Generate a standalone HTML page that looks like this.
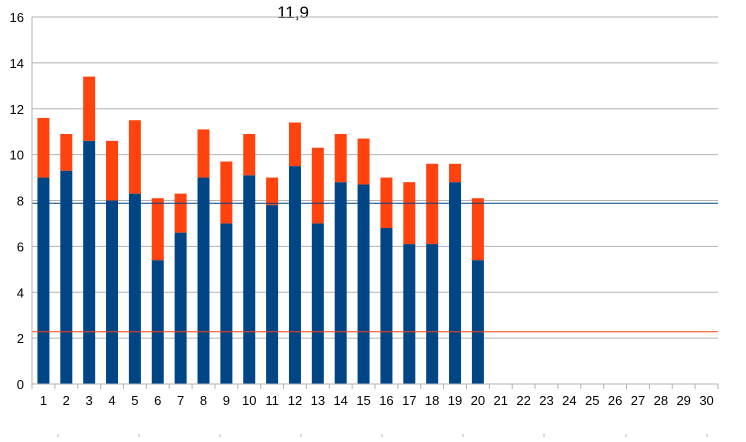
<!DOCTYPE html>
<html><head><meta charset="utf-8"><style>
body{margin:0;background:#fff;width:746px;height:437px;overflow:hidden}
svg text{font-family:"Liberation Sans",sans-serif}
</style></head><body>
<svg id="chart" width="746" height="437" xmlns="http://www.w3.org/2000/svg">
<text x="293" y="18" font-size="17" text-anchor="middle" fill="#000">11,9</text>
<g id="grid"></g><g id="bars"></g><g id="axes"></g>
</svg>
<script>
const categories = Array.from({length:30},(_,i)=>String(i+1));
const blueValues = [9.0,9.3,10.6,8.0,8.3,5.4,6.6,9.0,7.0,9.1,7.8,9.5,7.0,8.8,8.7,6.8,6.1,6.1,8.8,5.4];
const redValues  = [2.6,1.6,2.8,2.6,3.2,2.7,1.7,2.1,2.7,1.8,1.2,1.9,3.3,2.1,2.0,2.2,2.7,3.5,0.8,2.7];
const yTicks = [0,2,4,6,8,10,12,14,16];
const refLines = [{v:7.88,c:"#004586"},{v:2.28,c:"#ff420e"}];

const NS="http://www.w3.org/2000/svg";
const x0=32,x1=718,yTop=17,yBot=384,yMax=16;
const bw=(x1-x0)/categories.length;
const ys=v=>yBot-(v/yMax)*(yBot-yTop);
const xs=i=>x0+bw*i;
function mk(tag,parent,attrs){const e=document.createElementNS(NS,tag);for(const k in attrs)e.setAttribute(k,attrs[k]);document.getElementById(parent).appendChild(e);return e;}

yTicks.forEach(t=>{
  const l=mk('line','grid',{x1:x0,x2:x1,y1:ys(t),y2:ys(t),stroke:'#b3b3b3','stroke-width':1});
  
  
  const tx=mk('text','axes',{x:x0-8,y:ys(t)+5,'font-size':13,'text-anchor':'end',fill:'#000'});
  tx.textContent=t;
  
  
});
blueValues.forEach((b,i)=>{
  const r=redValues[i];
  const bx=xs(i)+bw/2-6;
  const rb=mk('rect','bars',{x:bx,y:ys(b),width:12,height:ys(0)-ys(b),fill:'#004586'});
  
  
  const rr=mk('rect','bars',{x:bx,y:ys(b+r),width:12,height:ys(b)-ys(b+r),fill:'#ff420e'});
  
  
});
refLines.forEach((L,i)=>{
  const l=mk('line','axes',{x1:x0,x2:x1,y1:ys(L.v),y2:ys(L.v),stroke:L.c,'stroke-width':1});
  
  
});
const ax=mk('line','axes',{x1:x0,x2:x0,y1:yTop,y2:yBot,stroke:'#b3b3b3'});


const bx=mk('line','axes',{x1:x0,x2:x1,y1:yBot,y2:yBot,stroke:'#b3b3b3'});


for(let i=0;i<=categories.length;i++){
  const t=mk('line','axes',{x1:xs(i),x2:xs(i),y1:yBot,y2:yBot+5,stroke:'#b3b3b3'});
  
  
}
categories.forEach((c,i)=>{
  const tx=mk('text','axes',{x:xs(i)+bw/2,y:405,'font-size':13,'text-anchor':'middle',fill:'#000'});
  tx.textContent=c;
  
  
});
[58,139,220,301,382,463,544,626,707].forEach(x=>{
  const t=mk('line','axes',{x1:x,x2:x,y1:434,y2:437,stroke:'#b3b3b3'});
  
  
});
</script>
</body></html>
